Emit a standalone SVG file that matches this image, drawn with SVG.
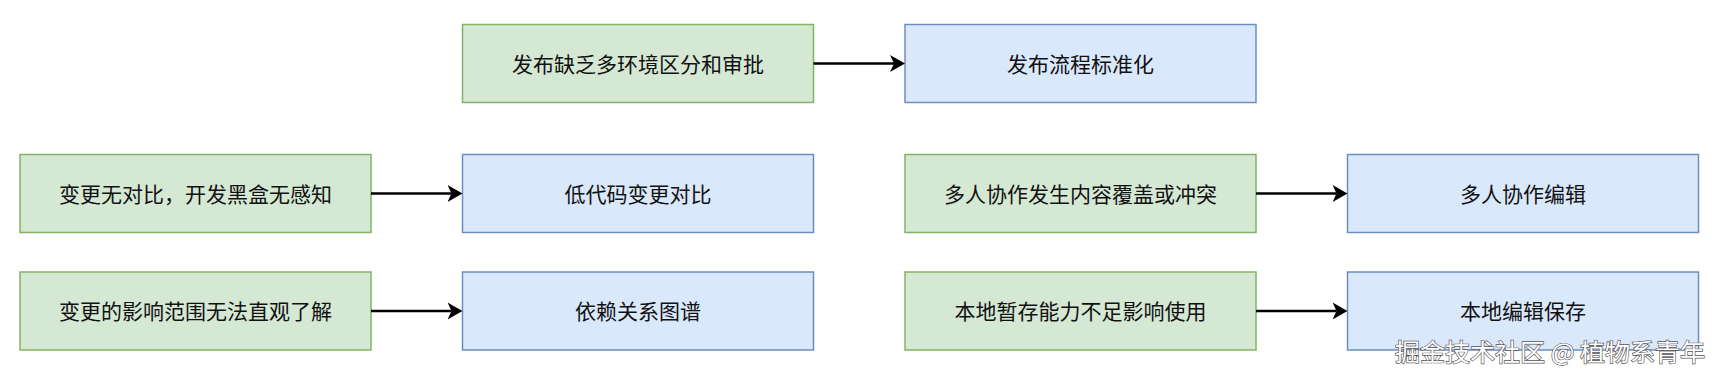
<svg xmlns="http://www.w3.org/2000/svg" width="1720" height="380" viewBox="0 0 1720 380">
<style>
.g{fill:#d5e8d4;stroke:#82b366;stroke-width:1.5}
.b{fill:#dae8fc;stroke:#6c8ebf;stroke-width:1.5}
.t{font-family:"Noto Sans CJK SC","Liberation Sans",sans-serif;font-size:21px;fill:#111;text-anchor:middle;dominant-baseline:central}
.c{fill:none;stroke:#000;stroke-width:2.4}
.wm{font-family:"Noto Sans CJK SC","Liberation Sans",sans-serif;font-size:24px;fill:#fff;stroke:#555;stroke-width:1.3;paint-order:stroke}
</style>
<defs>
<marker id="ah" markerUnits="userSpaceOnUse" viewBox="0 -9 16 18" markerWidth="16" markerHeight="18" refX="4" refY="0" orient="auto">
<path d="M0,-8.5 L15,0 L0,8.5 L4,0 Z" fill="#000"/>
</marker>
</defs>
<rect width="1720" height="380" fill="#fff"/>
<g id="n1"><rect class="g" x="462.5" y="24.5" width="351" height="78"/><text class="t" x="638" y="62.5">发布缺乏多环境区分和审批</text></g>
<g id="n2"><rect class="b" x="905" y="24.5" width="351" height="78"/><text class="t" x="1080.5" y="62.5">发布流程标准化</text></g>
<g id="n3"><rect class="g" x="20" y="154.5" width="351" height="78"/><text class="t" x="195.5" y="192.5">变更无对比，开发黑盒无感知</text></g>
<g id="n4"><rect class="b" x="462.5" y="154.5" width="351" height="78"/><text class="t" x="638" y="192.5">低代码变更对比</text></g>
<g id="n5"><rect class="g" x="905" y="154.5" width="351" height="78"/><text class="t" x="1080.5" y="192.5">多人协作发生内容覆盖或冲突</text></g>
<g id="n6"><rect class="b" x="1347.5" y="154.5" width="351" height="78"/><text class="t" x="1523" y="192.5">多人协作编辑</text></g>
<g id="n7"><rect class="g" x="20" y="272" width="351" height="78"/><text class="t" x="195.5" y="310">变更的影响范围无法直观了解</text></g>
<g id="n8"><rect class="b" x="462.5" y="272" width="351" height="78"/><text class="t" x="638" y="310">依赖关系图谱</text></g>
<g id="n9"><rect class="g" x="905" y="272" width="351" height="78"/><text class="t" x="1080.5" y="310">本地暂存能力不足影响使用</text></g>
<g id="n10"><rect class="b" x="1347.5" y="272" width="351" height="78"/><text class="t" x="1523" y="310">本地编辑保存</text></g>
<g id="connectors">
<path class="c" d="M813.5,63.5 H894" marker-end="url(#ah)"/>
<path class="c" d="M371,193.5 H451.5" marker-end="url(#ah)"/>
<path class="c" d="M1256,193.5 H1336.5" marker-end="url(#ah)"/>
<path class="c" d="M371,311 H451.5" marker-end="url(#ah)"/>
<path class="c" d="M1256,311 H1336.5" marker-end="url(#ah)"/>
</g>
<text class="wm" x="1395" y="361" textLength="310" lengthAdjust="spacingAndGlyphs">掘金技术社区 @ 植物系青年</text>
</svg>
